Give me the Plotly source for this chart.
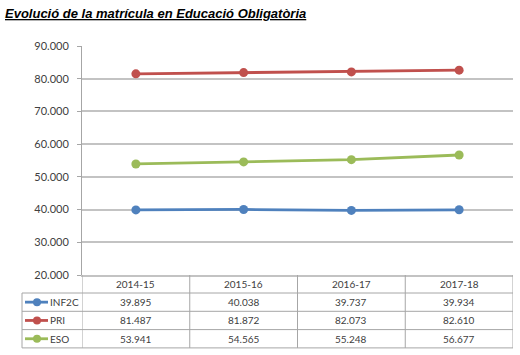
import plotly.graph_objects as go

categories = ["2014-15", "2015-16", "2016-17", "2017-18"]
series_names = ["INF2C", "PRI", "ESO"]
inf2c = [39895, 40038, 39737, 39934]
pri = [81487, 81872, 82073, 82610]
eso = [53941, 54565, 55248, 56677]
series_values = [inf2c, pri, eso]
colors = ["#4f81bd", "#c0504d", "#9bbb59"]
y_ticks = [20000, 30000, 40000, 50000, 60000, 70000, 80000, 90000]

W, H = 520, 355
ML, MR, MT, MB = 82, 7, 46, 80
PW = W - ML - MR
PH = H - MT - MB

GRID = "#c3c3c3"
BORDER = "#a6a6a6"
TXT = "#404040"
FONT = "Lato"
TABLE_FS = 10


def fmt(v):
    return f"{v:,}".replace(",", ".")


def px_x(px):
    return (px - ML) / PW


def off_y(off):
    return -off / PH


fig = go.Figure()
for name, vals, col in zip(series_names, series_values, colors):
    fig.add_trace(go.Scatter(
        x=categories, y=vals, name=name, mode="lines+markers",
        line=dict(color=col, width=2.8),
        marker=dict(color=col, size=9),
        showlegend=False,
    ))

shapes = []
annotations = []

header_bottom = 18
row_h = 18.3
row_lines = [header_bottom + row_h * (i + 1) for i in range(len(series_names))]
table_bottom = row_lines[-1]

line_style = dict(color=BORDER, width=1)
for off in [header_bottom] + row_lines:
    shapes.append(dict(type="line", xref="paper", yref="paper",
                       x0=px_x(22), x1=1, y0=off_y(off), y1=off_y(off), line=line_style))
shapes.append(dict(type="line", xref="paper", yref="paper",
                   x0=px_x(22), x1=px_x(22), y0=off_y(header_bottom), y1=off_y(table_bottom), line=line_style))
for i in range(len(categories) + 1):
    xv = i - 0.5
    shapes.append(dict(type="line", xref="x", yref="paper",
                       x0=xv, x1=xv, y0=0, y1=off_y(table_bottom), line=line_style))

for c in categories:
    annotations.append(dict(x=c, xref="x", y=0, yref="paper", yshift=-header_bottom / 2,
                            text=c, showarrow=False, yanchor="middle", xanchor="center",
                            font=dict(family=FONT, size=TABLE_FS, color=TXT)))

for r, (name, vals, col) in enumerate(zip(series_names, series_values, colors)):
    center = header_bottom + row_h * (r + 0.5)
    yc = off_y(center)
    shapes.append(dict(type="line", xref="paper", yref="paper",
                       x0=px_x(25), x1=px_x(48), y0=yc, y1=yc,
                       line=dict(color=col, width=2.8)))
    shapes.append(dict(type="circle", xref="paper", yref="paper",
                       xsizemode="pixel", ysizemode="pixel",
                       xanchor=px_x(37), yanchor=yc,
                       x0=-4, x1=4, y0=-4, y1=4,
                       fillcolor=col, line=dict(color=col, width=0)))
    annotations.append(dict(x=px_x(48), xref="paper", y=0, yref="paper", yshift=-center,
                            text=name, showarrow=False, yanchor="middle", xanchor="left",
                            font=dict(family=FONT, size=TABLE_FS, color=TXT)))
    for c, v in zip(categories, vals):
        annotations.append(dict(x=c, xref="x", y=0, yref="paper", yshift=-center,
                                text=fmt(v), showarrow=False, yanchor="middle", xanchor="center",
                                font=dict(family=FONT, size=TABLE_FS, color=TXT)))

annotations.append(dict(x=px_x(3), xref="paper", y=(PH + MT - 13) / PH, yref="paper",
                        xanchor="left", yanchor="middle", showarrow=False,
                        text="<b><i><u>Evolució de la matrícula en Educació Obligatòria</u></i></b>",
                        font=dict(family="Liberation Sans", size=13, color="#000000")))

fig.update_layout(
    width=W, height=H,
    margin=dict(l=ML, r=MR, t=MT, b=MB, pad=0, autoexpand=False),
    paper_bgcolor="white", plot_bgcolor="white",
    separators=",.",
    shapes=shapes, annotations=annotations,
    xaxis=dict(type="category", range=[-0.5, len(categories) - 0.5],
               showticklabels=False, showgrid=False, zeroline=False,
               showline=True, linecolor=GRID, linewidth=1.5, ticks=""),
    yaxis=dict(range=[20000, 90000], tickvals=y_ticks, tickformat=",d",
               showgrid=True, gridcolor=GRID, gridwidth=1.5, zeroline=False,
               showline=True, linecolor=BORDER, linewidth=1,
               ticks="outside", ticklen=4, tickcolor=BORDER,
               ticklabelstandoff=6,
               tickfont=dict(family=FONT, size=11, color=TXT)),
)

fig.write_html("out.html", config={"displayModeBar": False},
               post_script="document.body.style.margin='0';")
